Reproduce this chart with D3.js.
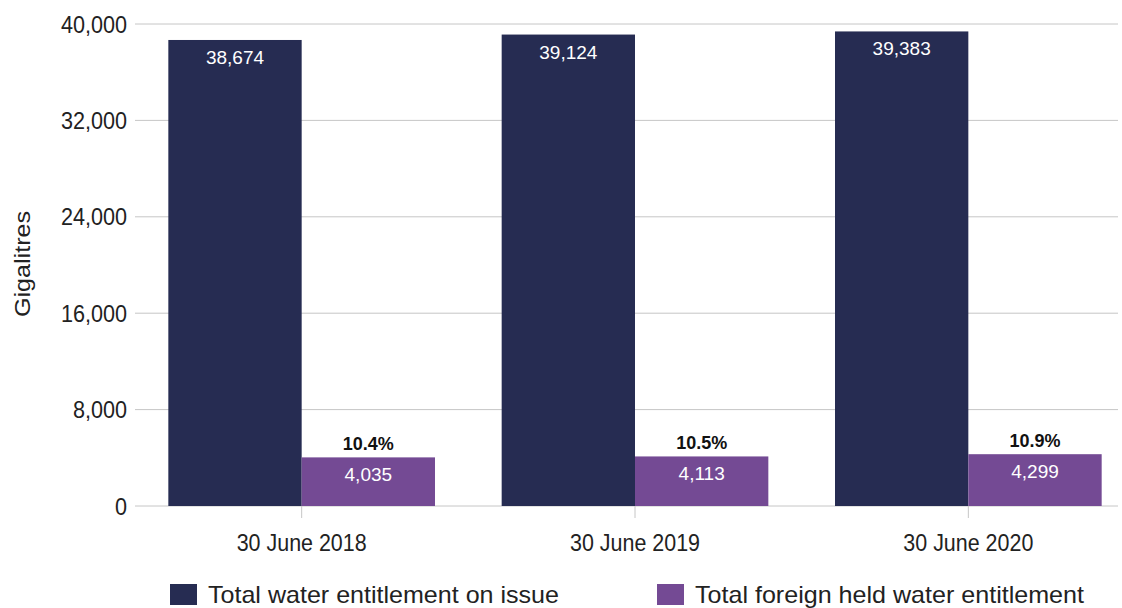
<!DOCTYPE html>
<html><head><meta charset="utf-8">
<script src="https://cdn.jsdelivr.net/npm/d3@7"></script>
<style>body{margin:0;background:#fff}svg{display:block}text{font-family:"Liberation Sans",Arial,sans-serif}</style>
</head><body>
<svg id="c" width="1122" height="608"></svg>
<script>
const categories = ["30 June 2018", "30 June 2019", "30 June 2020"];
const totalValues = [38674, 39124, 39383];
const foreignValues = [4035, 4113, 4299];
const percentLabels = ["10.4%", "10.5%", "10.9%"];
const yTicks = [0, 8000, 16000, 24000, 32000, 40000];
const seriesNames = ["Total water entitlement on issue", "Total foreign held water entitlement"];
const colors = ["#262C52", "#744A94"];

const svg = d3.select("#c");
const x0 = d3.scaleBand().domain(categories).range([135, 1135]).paddingInner(0.2).paddingOuter(0.1);
const x1 = d3.scaleBand().domain([0, 1]).range([0, x0.bandwidth()]);
const y = d3.scaleLinear().domain([0, 40000]).range([506, 24]);
const fmt = d3.format(",");

// gridlines
svg.append("g").selectAll("line").data(yTicks).join("line")
  .attr("x1", 135).attr("x2", 1118)
  .attr("y1", d => y(d)).attr("y2", d => y(d))
  .attr("stroke", "#c6c6c6").attr("stroke-width", 1);

// y labels
svg.append("g").selectAll("text").data(yTicks).join("text")
  .attr("transform", d => `translate(127,${y(d)}) scale(0.9,1)`)
  .attr("dy", "0.36em")
  .attr("text-anchor", "end").attr("font-size", 24).attr("fill", "#222")
  .text(d => fmt(d));

// y title
svg.append("text").attr("transform", "translate(30,264) rotate(-90)")
  .attr("text-anchor", "middle").attr("font-size", 22).attr("fill", "#222")
  .attr("textLength", 106).attr("lengthAdjust", "spacingAndGlyphs").text("Gigalitres");

// category ticks
svg.append("g").selectAll("line").data(categories).join("line")
  .attr("x1", d => x0(d) + x0.bandwidth()/2).attr("x2", d => x0(d) + x0.bandwidth()/2)
  .attr("y1", 506).attr("y2", 518).attr("stroke", "#c6c6c6");

svg.append("g").selectAll("text").data(categories).join("text")
  .attr("x", d => x0(d) + x0.bandwidth()/2).attr("y", 551)
  .attr("text-anchor", "middle").attr("font-size", 24).attr("fill", "#222")
  .attr("textLength", 130).attr("lengthAdjust", "spacingAndGlyphs")
  .text(d => d);

const series = [totalValues, foreignValues];
series.forEach((vals, si) => {
  const g = svg.append("g");
  g.selectAll("rect").data(categories).join("rect")
    .attr("x", d => x0(d) + x1(si)).attr("width", x1.bandwidth())
    .attr("y", (d, i) => y(vals[i])).attr("height", (d, i) => y(0) - y(vals[i]))
    .attr("fill", colors[si]);
  g.selectAll("text").data(categories).join("text")
    .attr("x", d => x0(d) + x1(si) + x1.bandwidth()/2)
    .attr("y", (d, i) => y(vals[i]) + 24)
    .attr("text-anchor", "middle").attr("font-size", 19).attr("fill", "#fff")
    .text((d, i) => fmt(vals[i]));
});

svg.append("g").selectAll("text").data(categories).join("text")
  .attr("x", d => x0(d) + x1(1) + x1.bandwidth()/2)
  .attr("y", (d, i) => y(foreignValues[i]) - 7)
  .attr("text-anchor", "middle").attr("font-size", 18).attr("font-weight", "bold").attr("fill", "#111")
  .text((d, i) => percentLabels[i]);

// legend
const legX = [170, 657];
const legW = [351, 389];
seriesNames.forEach((n, i) => {
  svg.append("rect").attr("x", legX[i]).attr("y", 584).attr("width", 27).attr("height", 21).attr("fill", colors[i]);
  svg.append("text").attr("x", legX[i] + 38).attr("y", 603).attr("font-size", 24).attr("fill", "#222")
    .attr("textLength", legW[i]).attr("lengthAdjust", "spacingAndGlyphs").text(n);
});
</script>
</body></html>
